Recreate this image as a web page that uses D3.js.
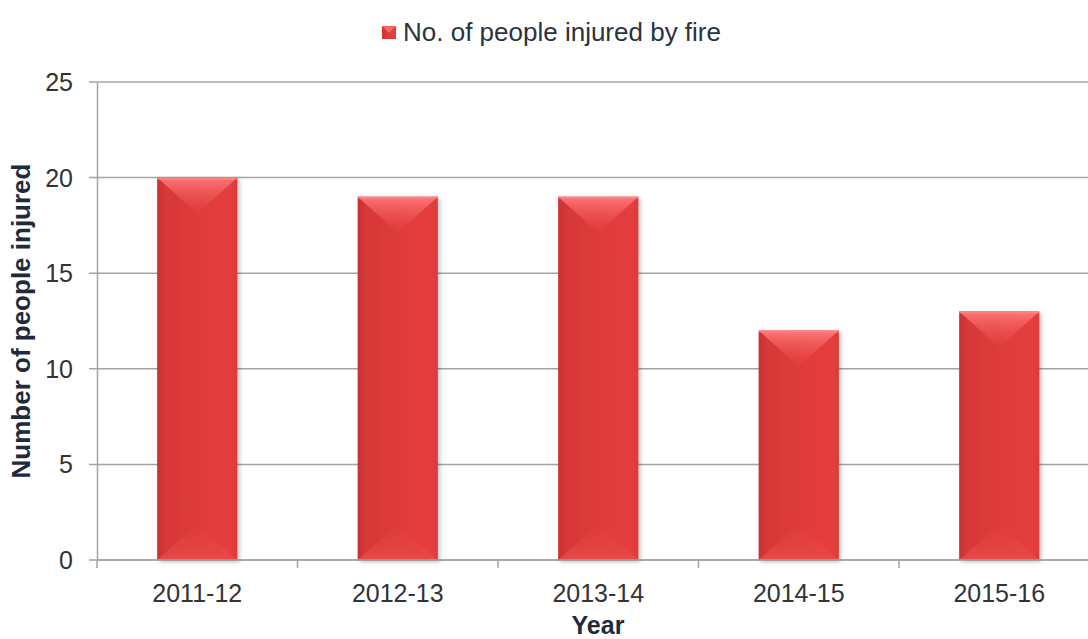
<!DOCTYPE html>
<html>
<head>
<meta charset="utf-8">
<script src="https://cdn.jsdelivr.net/npm/d3@7"></script>
<style>
  html, body { margin: 0; padding: 0; background: #fff; }
  svg { display: block; font-family: "Liberation Sans", Arial, sans-serif; }
</style>
</head>
<body>
<svg id="chart" width="1088" height="639"></svg>
<script>
// Fire injuries per financial year
const years = ["2011-12", "2012-13", "2013-14", "2014-15", "2015-16"];
const injured = [20, 19, 19, 12, 13];
const yTicks = [0, 5, 10, 15, 20, 25];
const seriesName = "No. of people injured by fire";

const svg = d3.select("#chart");
// the plot area runs slightly past the right edge of the canvas
const plot = { left: 97, right: 1099.5, top: 82, bottom: 560 };

const x = d3.scaleBand().domain(years)
  .range([plot.left, plot.right])
  .paddingInner(0.6).paddingOuter(0.3);
const y = d3.scaleLinear().domain([0, 25]).range([plot.bottom, plot.top]);

const defs = svg.append("defs");
const body = defs.append("linearGradient").attr("id", "barBody")
  .attr("x1", 0).attr("x2", 1).attr("y1", 0).attr("y2", 0);
body.append("stop").attr("offset", 0).attr("stop-color", "#c93232");
body.append("stop").attr("offset", 0.12).attr("stop-color", "#d83838");
body.append("stop").attr("offset", 0.9).attr("stop-color", "#e63e3e");
body.append("stop").attr("offset", 1).attr("stop-color", "#dc3a3a");

const topG = defs.append("linearGradient").attr("id", "bevelTop")
  .attr("x1", 0).attr("x2", 0).attr("y1", 0).attr("y2", 1);
topG.append("stop").attr("offset", 0).attr("stop-color", "#ff7a7a").attr("stop-opacity", 0.95);
topG.append("stop").attr("offset", 1).attr("stop-color", "#e84444").attr("stop-opacity", 0.2);

const botG = defs.append("linearGradient").attr("id", "bevelBot")
  .attr("x1", 0).attr("x2", 0).attr("y1", 1).attr("y2", 0);
botG.append("stop").attr("offset", 0).attr("stop-color", "#e84a4a").attr("stop-opacity", 0.9);
botG.append("stop").attr("offset", 1).attr("stop-color", "#e84444").attr("stop-opacity", 0.0);

const shadow = defs.append("filter").attr("id", "shadow")
  .attr("x", "-20%").attr("y", "-5%").attr("width", "140%").attr("height", "115%");
shadow.append("feDropShadow").attr("dx", 2).attr("dy", 2).attr("stdDeviation", 2)
  .attr("flood-color", "#000").attr("flood-opacity", 0.25);

// Gridlines with left tick stubs
svg.append("g")
  .selectAll("line").data(yTicks).join("line")
  .attr("x1", plot.left - 8).attr("x2", plot.right)
  .attr("y1", d => y(d)).attr("y2", d => y(d))
  .attr("stroke", "#a3a3a3").attr("stroke-width", 1.5);

// Y axis
const yAxis = d3.axisLeft(y).tickValues(yTicks).tickSize(0).tickPadding(24);
const gy = svg.append("g").attr("transform", `translate(${plot.left},0)`).call(yAxis);
gy.select(".domain").attr("stroke", "#a3a3a3").attr("stroke-width", 1.5);
gy.selectAll("text").attr("font-size", 25).attr("fill", "#333").attr("dy", "0.34em")
  .attr("font-family", "Liberation Sans, Arial, sans-serif");

// Bars
const bars = svg.append("g").selectAll("g.bar")
  .data(years.map((k, i) => ({ k, v: injured[i] })))
  .join("g").attr("class", "bar");

bars.append("rect")
  .attr("x", d => x(d.k)).attr("y", d => y(d.v))
  .attr("width", x.bandwidth()).attr("height", d => y(0) - y(d.v))
  .attr("fill", "url(#barBody)").attr("filter", "url(#shadow)");

bars.append("polygon")
  .attr("points", d => {
    const x0 = x(d.k), x1 = x0 + x.bandwidth(), t = y(d.v), depth = x.bandwidth() * 0.45;
    return [[x0, t], [x1, t], [x0 + x.bandwidth() / 2, t + depth]].map(p => p.join(",")).join(" ");
  })
  .attr("fill", "url(#bevelTop)");

bars.append("polygon")
  .attr("points", d => {
    const x0 = x(d.k), x1 = x0 + x.bandwidth(), b = y(0), depth = x.bandwidth() * 0.45;
    return [[x0, b], [x1, b], [x0 + x.bandwidth() / 2, b - depth]].map(p => p.join(",")).join(" ");
  })
  .attr("fill", "url(#bevelBot)");

bars.append("rect")
  .attr("x", d => x(d.k)).attr("y", d => y(d.v))
  .attr("width", x.bandwidth()).attr("height", 2)
  .attr("fill", "#ff8a8a").attr("opacity", 0.6);

// X axis (baseline + ticks between categories)
const boundaries = d3.range(years.length).map(i => plot.left + i * x.step());
svg.append("g").selectAll("line").data(boundaries).join("line")
  .attr("x1", d => d).attr("x2", d => d)
  .attr("y1", plot.bottom).attr("y2", plot.bottom + 8)
  .attr("stroke", "#a3a3a3").attr("stroke-width", 1.5);
svg.append("line")
  .attr("x1", plot.left).attr("x2", plot.right)
  .attr("y1", plot.bottom).attr("y2", plot.bottom)
  .attr("stroke", "#a3a3a3").attr("stroke-width", 1.5);

svg.append("g").selectAll("text").data(years).join("text")
  .attr("x", d => x(d) + x.bandwidth() / 2).attr("y", 602)
  .attr("text-anchor", "middle").attr("font-size", 25).attr("fill", "#333")
  .text(d => d);

// Axis titles
svg.append("text").attr("x", 598).attr("y", 634)
  .attr("text-anchor", "middle").attr("font-size", 25).attr("font-weight", "bold")
  .attr("fill", "#1f2a3a").text("Year");
svg.append("text")
  .attr("transform", `translate(30,${(plot.top + plot.bottom) / 2}) rotate(-90)`)
  .attr("text-anchor", "middle").attr("font-size", 26).attr("font-weight", "bold")
  .attr("fill", "#1f2a3a").text("Number of people injured");

// Legend
const lg = svg.append("g");
lg.append("rect").attr("x", 382).attr("y", 26).attr("width", 14).attr("height", 13)
  .attr("fill", "url(#barBody)");
lg.append("polygon").attr("points", "382,26 396,26 389,33").attr("fill", "#ff7070").attr("opacity", 0.8);
lg.append("text").attr("x", 403).attr("y", 41).attr("font-size", 26).attr("fill", "#2a3340")
  .text(seriesName);
</script>
</body>
</html>
